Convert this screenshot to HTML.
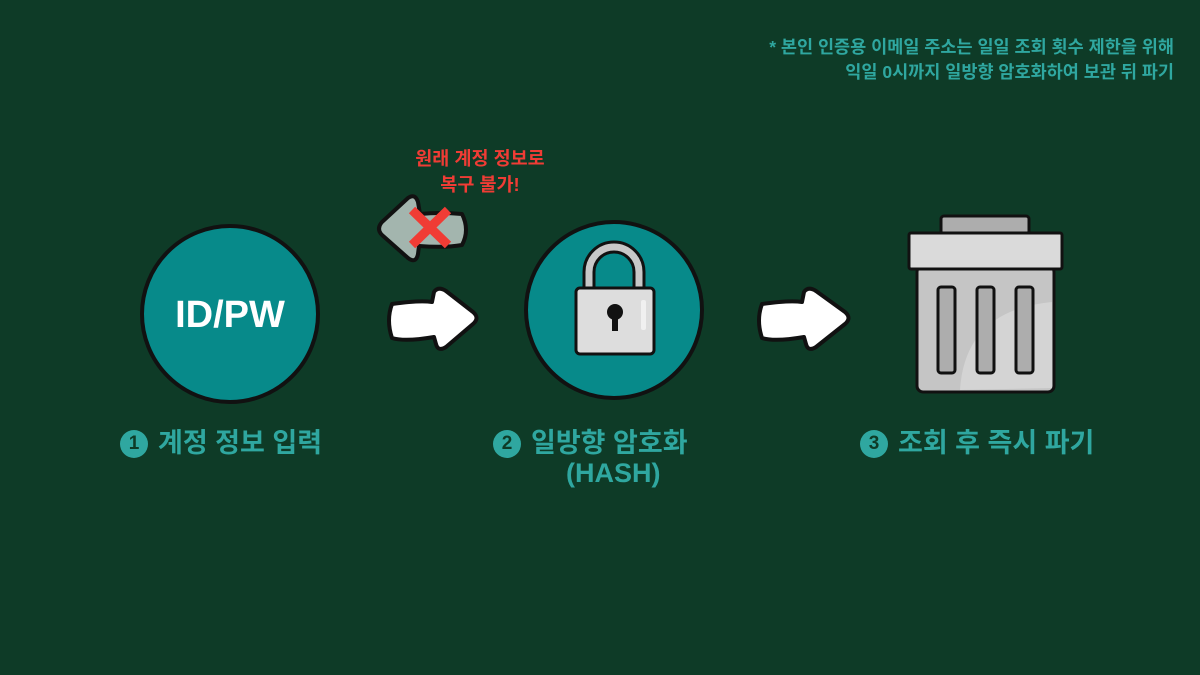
<!DOCTYPE html>
<html><head><meta charset="utf-8"><style>
body{margin:0;width:1200px;height:675px;background:#0e3b27;overflow:hidden;position:relative;font-family:"Liberation Sans","Noto Sans CJK KR",sans-serif;font-weight:bold}
.t{position:absolute;white-space:nowrap}
.lbl{color:#2fa7a0;font-size:27px}
.num{display:inline-block;width:28px;height:28px;border-radius:50%;background:#2fa7a0;color:#0e3b27;font-size:19px;text-align:center;line-height:28px;vertical-align:3px;margin-right:10px}
</style></head><body>
<div class="t" style="right:26px;top:35px;text-align:right;color:#2fa7a0;font-size:17.5px;line-height:25px">* 본인 인증용 이메일 주소는 일일 조회 횟수 제한을 위해<br>익일 0시까지 일방향 암호화하여 보관 뒤 파기</div>
<div class="t" style="left:380px;top:146px;width:200px;text-align:center;color:#f03c35;font-size:18.5px;line-height:26px">원래 계정 정보로<br>복구 불가!</div>
<svg width="1200" height="675" style="position:absolute;left:0;top:0">
<circle cx="230" cy="314" r="88" fill="#078a8a" stroke="#111" stroke-width="4"/>
<text x="230" y="327" text-anchor="middle" fill="#fff" font-size="38" font-weight="bold" font-family="Liberation Sans,sans-serif">ID/PW</text>
<circle cx="614" cy="310" r="88" fill="#078a8a" stroke="#111" stroke-width="4"/>
<path d="M589 290 V272 a25 25 0 0 1 50 0 V290" fill="none" stroke="#111" stroke-width="13"/>
<path d="M589 290 V272 a25 25 0 0 1 50 0 V290" fill="none" stroke="#c8c8c8" stroke-width="7"/>
<rect x="576" y="288" width="78" height="66" rx="4" fill="#ddd" stroke="#111" stroke-width="3"/>
<rect x="641" y="300" width="5" height="30" rx="2" fill="#f0f0f0"/>
<circle cx="615" cy="312" r="8" fill="#111"/><rect x="612" y="312" width="6" height="19" fill="#111"/>
<path d="M392 304 Q420 300 432 302 L434 292 Q438 286 446 291 L473 312 Q480 318 473 324 L446 347 Q438 352 436 344 L434 337 Q405 342 392 338 Q386 320 392 304 Z" fill="#fff" stroke="#111" stroke-width="4" stroke-linejoin="round"/>
<path d="M762 304 Q790 300 802 302 L804 292 Q808 286 816 291 L845 312 Q852 318 845 324 L816 347 Q808 352 806 344 L804 337 Q775 342 762 338 Q756 320 762 304 Z" fill="#fff" stroke="#111" stroke-width="4" stroke-linejoin="round"/>
<path d="M462 214 Q440 212 420 214 L418 202 Q415 193 408 198 L382 222 Q376 229 382 235 L408 258 Q416 264 418 254 L419 246 Q445 248 462 245 Q470 230 462 214 Z" fill="#a3b5ae" stroke="#111" stroke-width="4" stroke-linejoin="round"/>
<path d="M412 210 L448 245 M448 210 L412 245" stroke="#f03c35" stroke-width="9"/>
<rect x="941" y="216" width="88" height="18" rx="3" fill="#adadad" stroke="#111" stroke-width="3"/>
<rect x="917" y="266" width="137" height="126" rx="6" fill="#c5c5c5" stroke="#111" stroke-width="3"/>
<path d="M960 390 Q965 310 1052 302 V388 Z" fill="#d4d4d4"/>
<rect x="909" y="233" width="153" height="36" rx="2" fill="#dadada" stroke="#111" stroke-width="3"/>
<rect x="938" y="287" width="17" height="86" rx="3" fill="#adadad" stroke="#111" stroke-width="3"/>
<rect x="977" y="287" width="17" height="86" rx="3" fill="#adadad" stroke="#111" stroke-width="3"/>
<rect x="1016" y="287" width="17" height="86" rx="3" fill="#adadad" stroke="#111" stroke-width="3"/>
</svg>
<div class="t lbl" style="left:120px;top:421px"><span class="num">1</span>계정 정보 입력</div>
<div class="t lbl" style="left:493px;top:421px"><span class="num">2</span>일방향 암호화</div>
<div class="t lbl" style="left:566px;top:458px">(HASH)</div>
<div class="t lbl" style="left:860px;top:421px"><span class="num">3</span>조회 후 즉시 파기</div>
</body></html>
